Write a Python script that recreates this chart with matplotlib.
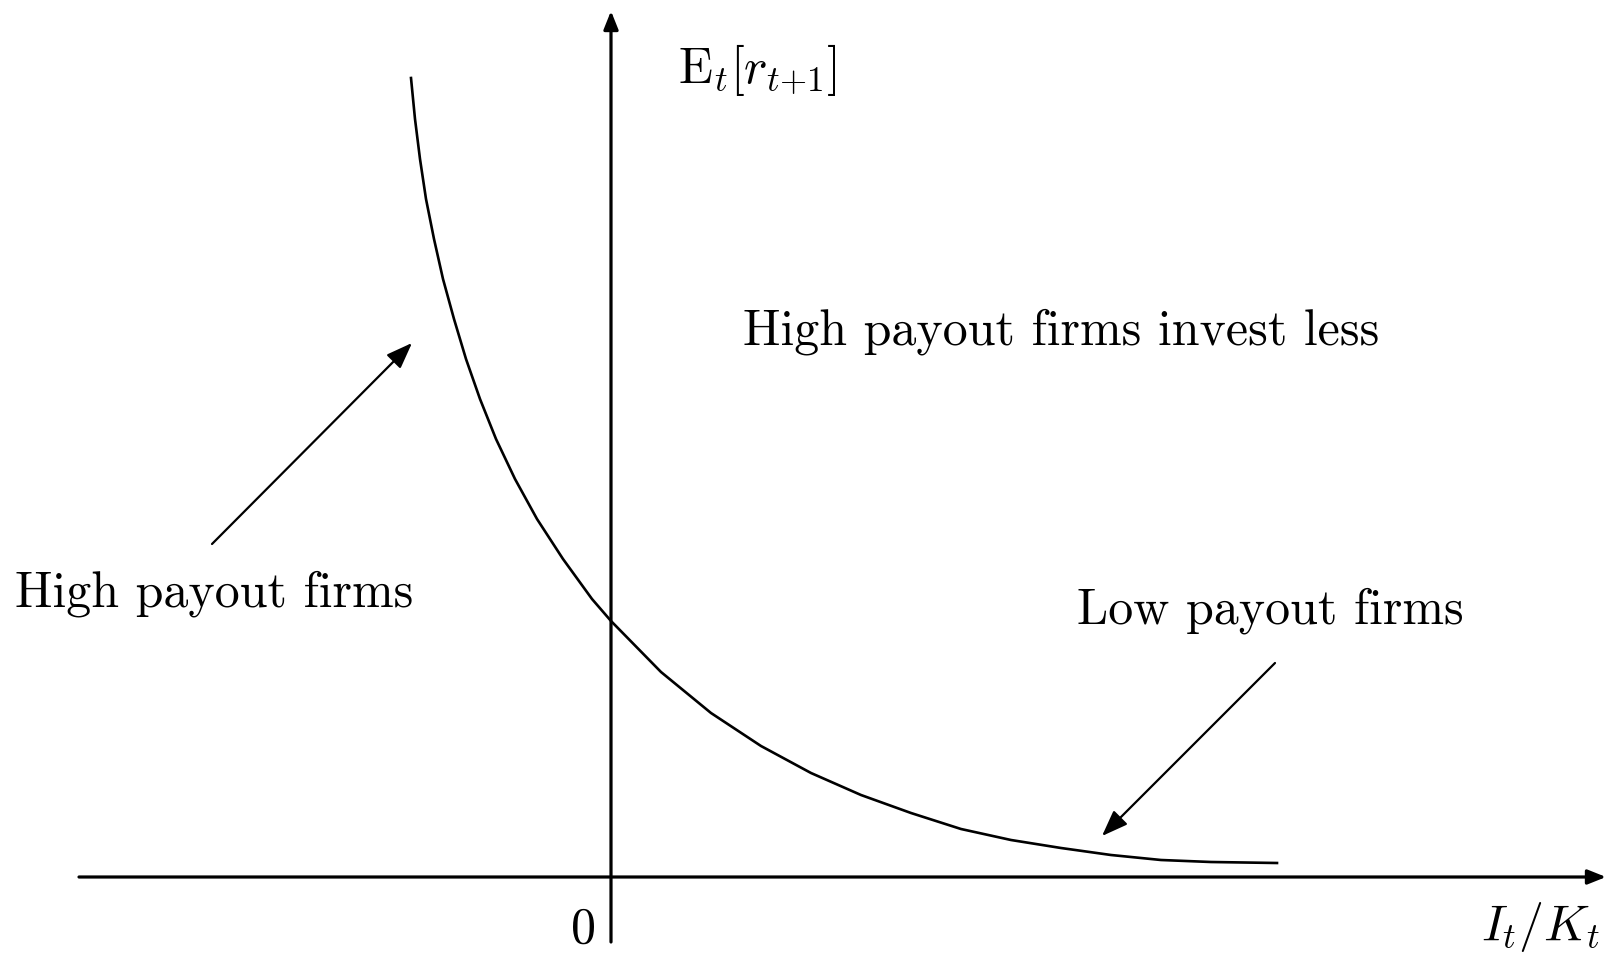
import numpy as np
import matplotlib
matplotlib.use("Agg")
import matplotlib.pyplot as plt

plt.rcParams["font.family"] = "serif"
plt.rcParams["font.serif"] = ["cmr10", "DejaVu Serif"]
plt.rcParams["mathtext.fontset"] = "cm"
plt.rcParams["axes.unicode_minus"] = False

# expected return against investment rate (schematic, origin at the axes crossing)
curve_x = [-2.00, -1.96, -1.91, -1.85, -1.77, -1.68, -1.57, -1.45, -1.31, -1.15,
           -0.96, -0.74, -0.48, -0.19, 0.00, 0.50, 1.00, 1.50, 2.00, 2.50,
           3.00, 3.50, 4.00, 4.50, 5.00, 5.50, 6.00, 6.66]
curve_y = [7.99, 7.58, 7.18, 6.78, 6.38, 5.98, 5.58, 5.18, 4.78, 4.38,
           3.98, 3.58, 3.18, 2.78, 2.56, 2.05, 1.64, 1.31, 1.04, 0.82,
           0.64, 0.48, 0.37, 0.29, 0.22, 0.17, 0.15, 0.14]

x_axis = (-5.32, 9.95)
y_axis = (-0.65, 8.66)

high_arrow = ((-3.99, 3.33), (-1.99, 5.34))   # (start, tip)
low_arrow = ((6.64, 2.14), (4.91, 0.41))

fig = plt.figure(figsize=(16.11, 9.54), dpi=100)
ax = fig.add_axes([0, 0, 1, 1])
ax.set_xlim(-6.11, 10.0)
ax.set_ylim(-0.76, 8.78)
ax.axis("off")

# axes with arrow heads
axis_arrow = dict(arrowstyle="-|>,head_length=0.55,head_width=0.22", lw=2.3,
                  color="black", shrinkA=0, shrinkB=0, mutation_scale=20)
ax.annotate("", xy=(x_axis[1], 0), xytext=(x_axis[0], 0), arrowprops=axis_arrow)
ax.annotate("", xy=(0, y_axis[1]), xytext=(0, y_axis[0]), arrowprops=axis_arrow)

ax.plot(curve_x, curve_y, color="black", lw=1.9, solid_joinstyle="round")

pointer = dict(arrowstyle="-|>,head_length=0.8,head_width=0.3", lw=1.6,
               color="black", shrinkA=0, shrinkB=0, mutation_scale=20)
ax.annotate("", xy=high_arrow[1], xytext=high_arrow[0], arrowprops=pointer)
ax.annotate("", xy=low_arrow[1], xytext=low_arrow[0], arrowprops=pointer)

fs = 36
ax.text(0.67, 8.08, r"$\mathrm{E}_t[r_{t{+}1}]$", fontsize=fs, ha="left", va="center")
ax.text(1.32, 5.33, "High payout firms invest less", fontsize=fs, ha="left", va="baseline")
ax.text(-5.96, 2.71, "High payout firms", fontsize=fs, ha="left", va="baseline")
ax.text(4.66, 2.54, "Low payout firms", fontsize=fs, ha="left", va="baseline")
ax.text(-0.28, -0.52, "0", fontsize=fs, ha="center", va="center")
ax.text(9.89, -0.62, r"$I_t/K_t$", fontsize=fs, ha="right", va="baseline")

fig.savefig("out.png", dpi=100)
